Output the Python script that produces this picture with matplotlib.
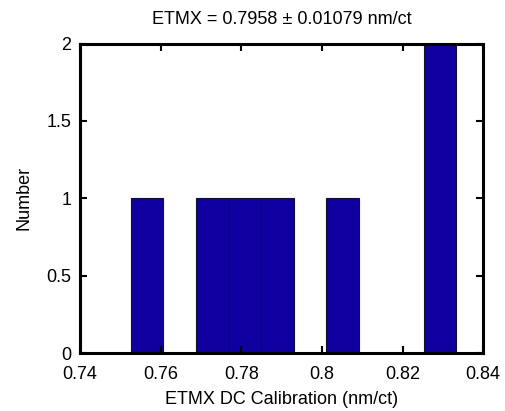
import matplotlib
matplotlib.use("Agg")
import matplotlib.pyplot as plt
from matplotlib.ticker import FuncFormatter

plt.rcParams['font.family'] = ['Liberation Sans', 'DejaVu Sans']

# Histogram data (10 bins, MATLAB hist style)
bin_edges = [0.7527, 0.7607, 0.7688, 0.7769, 0.7850, 0.7930,
             0.8011, 0.8091, 0.8172, 0.8252, 0.8333]
counts = [1, 0, 1, 1, 1, 0, 1, 0, 0, 2]
x_ticks = [0.74, 0.76, 0.78, 0.80, 0.82, 0.84]
y_ticks = [0, 0.5, 1, 1.5, 2]
title = "ETMX = 0.7958 \u00b1 0.01079 nm/ct"
xlabel = "ETMX DC Calibration (nm/ct)"
ylabel = "Number"

fig = plt.figure(figsize=(5.06, 4.11), dpi=100)
ax = fig.add_axes([0.158, 0.141, 0.797, 0.753])

lefts = bin_edges[:-1]
widths = [b - a for a, b in zip(bin_edges[:-1], bin_edges[1:])]
ax.bar(lefts, counts, width=widths, align='edge', color='#1000A0',
       edgecolor='#101030', linewidth=0.8)

ax.set_xlim(0.74, 0.84)
ax.set_ylim(0, 2)
ax.set_xticks(x_ticks)
ax.set_yticks(y_ticks)
fmt = FuncFormatter(lambda v, p: ('%g' % round(v, 4)))
ax.xaxis.set_major_formatter(fmt)
ax.yaxis.set_major_formatter(fmt)

for s in ax.spines.values():
    s.set_linewidth(2.2)
ax.tick_params(direction='in', top=True, right=True, length=5, width=1.5,
               labelsize=13, colors='black')
ax.tick_params(axis='x', pad=9)
ax.tick_params(axis='y', pad=6)
ax.set_title(title, fontsize=13, pad=14)
ax.set_xlabel(xlabel, fontsize=13, labelpad=6)
ax.set_ylabel(ylabel, fontsize=13, labelpad=10)

fig.savefig("out.png", dpi=100)
